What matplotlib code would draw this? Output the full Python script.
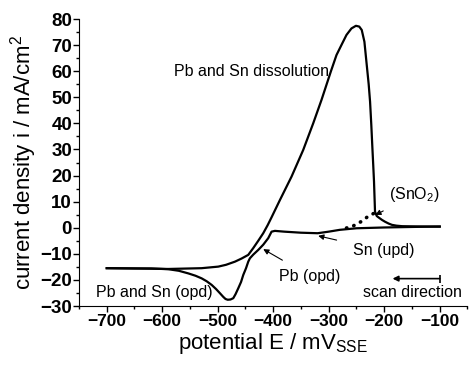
import matplotlib
matplotlib.use('Agg')
import matplotlib.pyplot as plt
from matplotlib.ticker import MultipleLocator

plt.rcParams['font.family'] = ['Liberation Sans', 'DejaVu Sans']

# cathodic scan, -100 -> -700 mV
E_cath = [-100, -150, -200, -250, -280, -300, -320, -350, -380, -397, -403, -409,
          -418, -427, -436, -442, -445, -449, -454, -458, -463, -468, -472, -477,
          -482, -486, -490, -496, -503, -511, -520, -529, -540, -553, -570, -589,
          -620, -650, -700]
i_cath = [0.5, 0.3, 0.1, -0.2, -0.8, -1.5, -2.1, -1.9, -1.5, -1.2, -1.5, -4.0,
          -6.5, -8.5, -10.3, -11.7, -13.0, -15.5, -18.1, -20.8, -23.2, -25.5, -27.0, -27.5,
          -27.6, -27.3, -26.5, -25.1, -23.5, -21.9, -20.5, -19.4, -18.4, -17.5, -16.5, -15.9,
          -15.6, -15.6, -15.5]

# anodic scan, -700 -> -100 mV
E_anod = [-700, -650, -589, -529, -499, -485, -469, -457, -445, -436, -427, -418,
          -410, -403, -388, -367, -346, -328, -313, -296, -286, -276, -268, -259,
          -251, -245, -240.5, -235.7, -231.5, -228, -225.5, -223.3, -221.3, -219.8,
          -218.4, -216.6, -213.5, -210.5, -204, -198.5, -192, -186, -178, -168,
          -140, -100]
i_anod = [-15.5, -15.6, -15.8, -15.5, -14.9, -14.2, -13.0, -11.8, -10.4, -7.8, -5.0, -2.1,
          1.0, 4.0, 10.6, 19.6, 29.8, 40.0, 49.0, 60.0, 66.2, 70.5, 73.9, 76.4,
          77.4, 77.1, 75.8, 71.3, 62.4, 55.0, 48.3, 39.5, 30.5, 24.0,
          17.7, 6.2, 4.5, 4.0, 3.0, 2.3, 1.6, 1.1, 0.8, 0.6,
          0.5, 0.4]

# SnO2 shoulder (dotted)
E_ox = [-268, -255, -242, -230, -218]
i_ox = [-0.1, 0.8, 2.3, 4.2, 5.6]

fig = plt.figure(figsize=(4.71, 3.65), dpi=100)
ax = fig.add_axes([0.1677, 0.1616, 0.8248, 0.7863])

ax.plot(E_cath, i_cath, color='black', lw=1.6, solid_joinstyle='round')
ax.plot(E_anod, i_anod, color='black', lw=1.6, solid_joinstyle='round')
ax.plot(E_ox, i_ox, color='black', lw=2.6, linestyle=(0, (0.1, 2.0)),
        dash_capstyle='round')

ax.set_xlim(-750, -50)
ax.set_ylim(-30, 80)
ax.xaxis.set_minor_locator(MultipleLocator(50))
ax.yaxis.set_major_locator(MultipleLocator(10))
ax.yaxis.set_minor_locator(MultipleLocator(5))
ax.set_xticks(range(-700, 0, 100))
ax.tick_params(which='major', direction='out', length=4, width=1)
ax.tick_params(which='minor', direction='out', length=2.5, width=1)
ax.tick_params(axis='x', which='major', labelsize=12.5, pad=2)
ax.tick_params(axis='y', which='major', labelsize=13.5, pad=1)
for lab in ax.get_xticklabels() + ax.get_yticklabels():
    lab.set_fontweight('bold')
ax.spines['top'].set_visible(False)
ax.spines['right'].set_visible(False)

ax.set_xlabel('potential E / mV$_{\\mathregular{SSE}}$', fontsize=16, labelpad=1)
ax.set_ylabel('current density i / mA/cm$^{\\mathregular{2}}$', fontsize=16, labelpad=1)

fs = 11.5
ax.text(-439, 60, 'Pb and Sn dissolution', fontsize=fs, ha='center', va='center')
ax.text(-615, -25, 'Pb and Sn (opd)', fontsize=fs, ha='center', va='center')
ax.text(-150, -25, 'scan direction', fontsize=fs, ha='center', va='center')

ax.annotate('Pb (opd)', xy=(-418, -8.2), xytext=(-334, -18.5), fontsize=fs,
            ha='center', va='center',
            arrowprops=dict(arrowstyle='-|>', color='black', lw=0.8,
                            mutation_scale=8, shrinkA=8, shrinkB=0))
ax.annotate('Sn (upd)', xy=(-319, -3.1), xytext=(-201, -8.9), fontsize=fs,
            ha='center', va='center',
            arrowprops=dict(arrowstyle='-|>', color='black', lw=0.8,
                            mutation_scale=8, shrinkA=10, shrinkB=0))
ax.annotate('(SnO$_{\\mathregular{2}}$)', xy=(-216, 4.9), xytext=(-145, 12.6), fontsize=fs,
            ha='center', va='center',
            arrowprops=dict(arrowstyle='-|>', color='black', lw=0.8,
                            mutation_scale=8, shrinkA=6, shrinkB=0))
ax.annotate('', xy=(-185, -19.5), xytext=(-100, -19.5),
            arrowprops=dict(arrowstyle='-|>', color='black', lw=1.2,
                            mutation_scale=8, shrinkA=0, shrinkB=0))
ax.plot([-100], [-19.5], marker='|', color='black', markersize=6, mew=1.2)

fig.savefig('out.png', dpi=100)
